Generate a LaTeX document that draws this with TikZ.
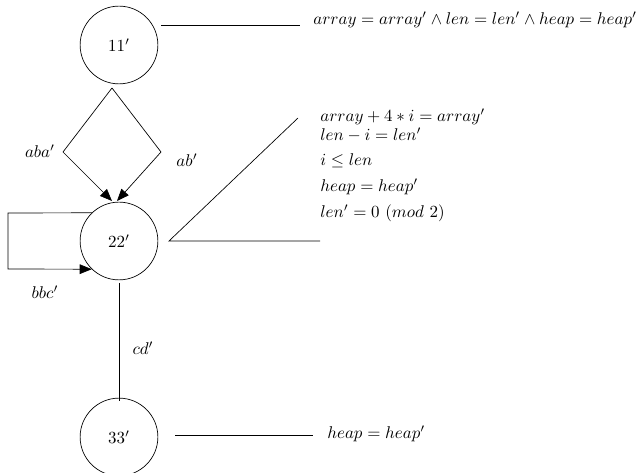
\documentclass[tikz,border=0pt]{standalone}
\usetikzlibrary{arrows.meta}
\def \globalscale {1.000000}
\tikzset{
  state/.style={draw=black, circle, minimum size=1.61cm, inner sep=0pt},
  trans/.style={draw=black, -{Triangle[length=0.25cm, width=0.2cm]}},
  plain/.style={draw=black},
  lbl/.style={inner sep=0pt},
  note/.style={anchor=west, inner sep=0pt},
}

\begin{document}
\begin{tikzpicture}[y=-0.0207cm, x=0.0207cm, yscale=\globalscale, xscale=\globalscale, every node/.append style={scale=\globalscale}]
  \useasboundingbox (0, 0) rectangle (644, 473);

  % states
  \node[state] (n11) at (119, 45) {$11'$};
  \node[state] (n22) at (119, 241) {$22'$};
  \node[state] (n33) at (119, 437) {$33'$};

  % points where the edges split and meet
  \coordinate (split11) at (112, 88);
  \coordinate (left11) at (63, 152);
  \coordinate (right11) at (161, 152);
  \coordinate (in22a) at (112, 201);
  \coordinate (in22b) at (117, 201);
  \coordinate (out22) at (119, 283);
  \coordinate (in33) at (119, 401);

  % transitions
  \path[trans] (split11) -- (left11) -- (in22a);
  \path[trans] (split11) -- (right11) -- (in22b);
  \path[trans] (n22.134) -- (8, 213) -- (8, 269) -- (n22.226);
  \path[plain] (out22) -- (in33);

  \node[lbl] (laba) at (40, 151) {$aba'$};
  \node[lbl] (lab) at (187, 160) {$ab'$};
  \node[lbl] (lbbc) at (45, 292) {$bbc'$};
  \node[lbl] (lcd) at (143, 348) {$cd'$};

  % annotations
  \node[note] (inv11) at (313, 20) {$array = array' \wedge len = len' \wedge heap = heap'$};
  \coordinate (tail11) at (161, 25);
  \coordinate (head11) at (300, 25);
  \path[plain] (tail11) -- (head11);

  \node[note] (inv22a) at (320, 117) {$array + 4 * i = array'$};
  \node[note] (inv22b) at (320, 135) {$len - i = len'$};
  \node[note] (inv22c) at (320, 161) {$i \leq len$};
  \node[note] (inv22d) at (320, 187) {$heap = heap'$};
  \node[note] (inv22e) at (320, 213) {$len' = 0\ (mod\ 2)$};
  \coordinate (tail22) at (169, 241);
  \coordinate (top22) at (298, 118);
  \coordinate (end22) at (320, 241);
  \path[plain] (top22) -- (tail22) -- (end22);

  \node[note] (inv33) at (327, 434) {$heap = heap'$};
  \coordinate (tail33) at (175, 435);
  \coordinate (head33) at (313, 435);
  \path[plain] (tail33) -- (head33);

\end{tikzpicture}
\end{document}
